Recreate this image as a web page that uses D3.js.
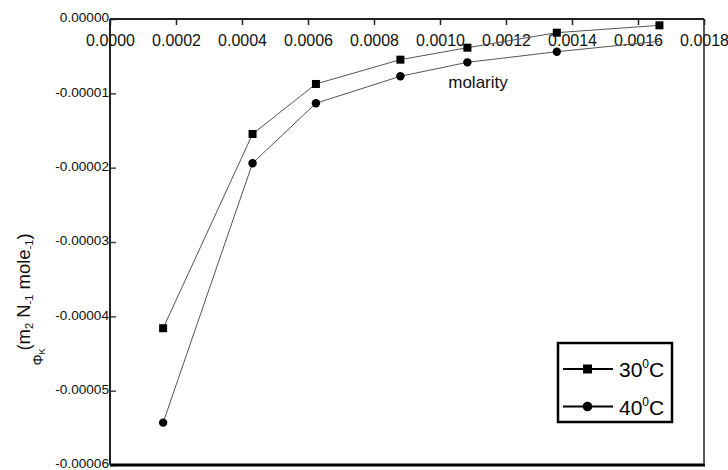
<!DOCTYPE html>
<html>
<head>
<meta charset="utf-8">
<script src="https://cdn.jsdelivr.net/npm/d3@7"></script>
<style>
  body { margin: 0; background: #fff; }
  svg { display: block; font-family: "Liberation Sans", Arial, sans-serif; }
</style>
</head>
<body>
<script>
// molarity values (x) and phi_k values for each temperature
var molarity30 = [0.000161, 0.000432, 0.000624, 0.000880, 0.001083, 0.001354, 0.001665];
var phi30 = [-4.16e-5, -1.547e-5, -8.74e-6, -5.47e-6, -3.86e-6, -1.84e-6, -0.85e-6];
var molarity40 = [0.000161, 0.000432, 0.000624, 0.000880, 0.001083, 0.001354, 0.001665];
var phi40 = [-5.43e-5, -1.94e-5, -1.134e-5, -7.7e-6, -5.83e-6, -4.4e-6, -3.0e-6];
var xTicks = [0, 0.0002, 0.0004, 0.0006, 0.0008, 0.0010, 0.0012, 0.0014, 0.0016, 0.0018];
var yTicks = [0, -0.00001, -0.00002, -0.00003, -0.00004, -0.00005, -0.00006];
var seriesNames = ['30', '40'];

(function() {
    var width = 728, height = 470;
    var m = { left: 110, right: 704, top: 19, bottom: 465 };

    var svg = d3.select('body').append('svg')
        .attr('width', width)
        .attr('height', height);

    var x = d3.scaleLinear().domain([0, 0.0018]).range([m.left, m.right]);
    var y = d3.scaleLinear().domain([-0.00006, 0]).range([m.bottom, m.top]);

    function minus(s) { return s.replace('\u2212', '-'); }

    // x axis along the top, ticks pointing down, labels below
    var xAxis = svg.append('g')
        .attr('transform', 'translate(0,' + m.top + ')')
        .call(d3.axisBottom(x).tickValues(xTicks).tickSize(6).tickSizeOuter(0).tickPadding(9.5)
            .tickFormat(function(d) { return minus(d3.format('.4f')(d)); }));
    xAxis.select('.domain').remove();
    xAxis.selectAll('text').attr('font-size', 16).attr('fill', '#111');
    xAxis.selectAll('line').attr('stroke', '#222').attr('stroke-width', 1.5);
    xAxis.attr('font-family', null);

    // y axis, ticks pointing right into the plot
    var yAxis = svg.append('g')
        .attr('transform', 'translate(' + m.left + ',0)')
        .call(d3.axisLeft(y).tickValues(yTicks).tickSize(-6).tickSizeOuter(0).tickPadding(1)
            .tickFormat(function(d) { return minus(d3.format('.5f')(d)); }));
    yAxis.select('.domain').remove();
    yAxis.selectAll('text').attr('font-size', 13.6).attr('fill', '#111').attr('dy', '0.2em');
    yAxis.selectAll('line').attr('stroke', '#444').attr('stroke-width', 1.5);
    yAxis.attr('font-family', null);

    // frame
    svg.append('line').attr('x1', m.left).attr('x2', m.right).attr('y1', m.top).attr('y2', m.top)
        .attr('stroke', '#222').attr('stroke-width', 2);
    svg.append('line').attr('x1', m.left).attr('x2', m.left).attr('y1', m.top).attr('y2', m.bottom)
        .attr('stroke', '#222').attr('stroke-width', 2);
    svg.append('line').attr('x1', m.left).attr('x2', m.right + 1).attr('y1', m.bottom).attr('y2', m.bottom)
        .attr('stroke', '#000').attr('stroke-width', 3);
    svg.append('line').attr('x1', m.right).attr('x2', m.right).attr('y1', m.top).attr('y2', m.bottom)
        .attr('stroke', '#222').attr('stroke-width', 1.5);

    var line = d3.line()
        .x(function(d) { return x(d[0]); })
        .y(function(d) { return y(d[1]); });

    var pts30 = d3.zip(molarity30, phi30);
    var pts40 = d3.zip(molarity40, phi40);

    svg.append('path').datum(pts30)
        .attr('d', line).attr('fill', 'none').attr('stroke', '#555').attr('stroke-width', 1);
    svg.append('path').datum(pts40)
        .attr('d', line).attr('fill', 'none').attr('stroke', '#555').attr('stroke-width', 1);

    svg.selectAll('rect.m30').data(pts30).enter().append('rect')
        .attr('class', 'm30')
        .attr('x', function(d) { return x(d[0]) - 4; })
        .attr('y', function(d) { return y(d[1]) - 4; })
        .attr('width', 8).attr('height', 8)
        .attr('fill', '#000');

    // last 40C marker is hidden under the 0.0016 label in the original
    svg.selectAll('circle.m40').data(pts40.slice(0, 6)).enter().append('circle')
        .attr('class', 'm40')
        .attr('cx', function(d) { return x(d[0]); })
        .attr('cy', function(d) { return y(d[1]); })
        .attr('r', 4.2)
        .attr('fill', '#000');

    // x title
    svg.append('text').attr('x', 478).attr('y', 88)
        .attr('text-anchor', 'middle').attr('font-size', 17).attr('fill', '#111')
        .text('molarity');

    // y titles
    var yt = svg.append('text')
        .attr('transform', 'translate(30,292) rotate(-90)')
        .attr('text-anchor', 'middle').attr('font-size', 18.5).attr('fill', '#111');
    yt.append('tspan').text('(m');
    yt.append('tspan').attr('font-size', 11).attr('dy', 3).text('2');
    yt.append('tspan').attr('dy', -3).text(' N');
    yt.append('tspan').attr('font-size', 11).attr('dy', 3).text('-1');
    yt.append('tspan').attr('dy', -3).text(' mole');
    yt.append('tspan').attr('font-size', 11).attr('dy', 3).text('-1');
    yt.append('tspan').attr('dy', -3).text(')');

    var phi = svg.append('text')
        .attr('transform', 'translate(43,357) rotate(-90)')
        .attr('text-anchor', 'middle').attr('font-size', 14).attr('fill', '#111');
    phi.append('tspan').text('\u03A6');
    phi.append('tspan').attr('font-size', 9).attr('dy', 2).text('K');

    // legend
    var lg = svg.append('g');
    lg.append('rect').attr('x', 558).attr('y', 343).attr('width', 114).attr('height', 79)
        .attr('fill', '#fff').attr('stroke', '#000').attr('stroke-width', 2.5);
    seriesNames.forEach(function(name, i) {
        var ly = 369 + i * 37.5;
        lg.append('line').attr('x1', 563).attr('x2', 613).attr('y1', ly).attr('y2', ly)
            .attr('stroke', '#000').attr('stroke-width', 2);
        if (i === 0) {
            lg.append('rect').attr('x', 583).attr('y', ly - 4.5).attr('width', 9).attr('height', 9).attr('fill', '#000');
        } else {
            lg.append('circle').attr('cx', 587.5).attr('cy', ly).attr('r', 4.8).attr('fill', '#000');
        }
        var t = lg.append('text').attr('x', 619).attr('y', ly + 8)
            .attr('font-size', 21).attr('fill', '#000');
        t.append('tspan').text(name);
        t.append('tspan').attr('font-size', 12).attr('dy', -9).text('0');
        t.append('tspan').attr('dy', 9).text('C');
    });
})();
</script>
</body>
</html>
